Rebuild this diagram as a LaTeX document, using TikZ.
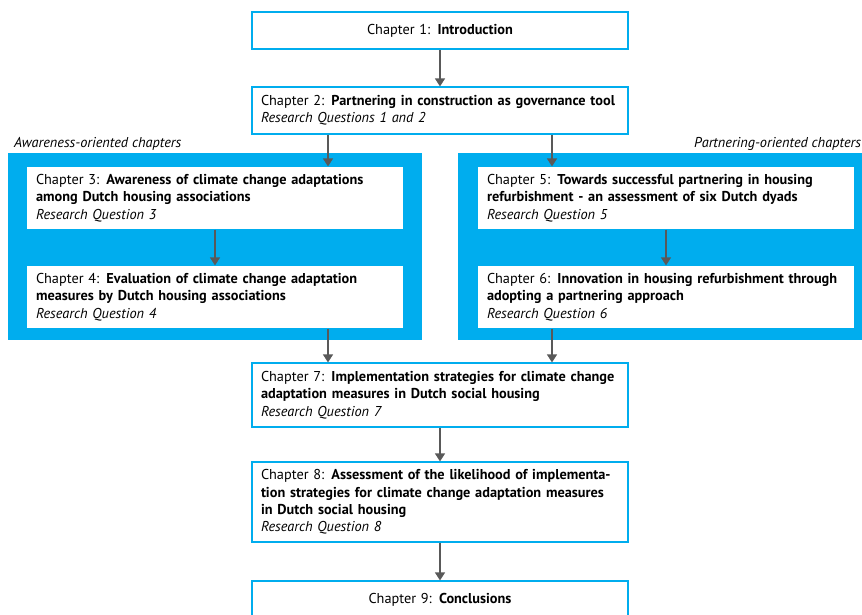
\documentclass[tikz,border=0pt]{standalone}
\usepackage{fontspec}
\setmainfont{PT Sans}
\usetikzlibrary{arrows.meta}

\definecolor{chapblue}{HTML}{00ADEE}
\definecolor{arrowgray}{HTML}{595959}

\tikzset{
  chapbox/.style={draw=chapblue, line width=1.2pt, fill=white, minimum width=376pt,
    text width=358pt, align=left, inner sep=0pt, font=\fontsize{14.3}{17.3}\selectfont},
  innerbox/.style={chapbox, draw=none},
  grouplabel/.style={font=\fontsize{14.3}{16}\selectfont\itshape, inner sep=0pt},
  arr/.style={-{Triangle[width=10pt,length=8pt]}, line width=1.2pt, arrowgray}
}

\begin{document}
\begin{tikzpicture}[x=1pt, y=-1pt]
        \clip (0,0) rectangle (862,614);
        \fill[white] (0,0) rectangle (862,614);

        % group panels
        \fill[chapblue] (8,153) rectangle (422,340);
        \fill[chapblue] (458,153) rectangle (870,340);
        \node[grouplabel, anchor=base west] (awlabel) at (14,147) {Awareness-oriented chapters};
        \node[grouplabel, anchor=base west] (palabel) at (694,147) {Partnering-oriented chapters};

        \node[chapbox, minimum height=37pt, align=center] (ch1) at (440,30.5) {Chapter 1: \textbf{Introduction}};
        \node[chapbox, minimum height=47pt] (ch2) at (440,110.5) {Chapter 2: \textbf{Partnering in construction as governance tool}\\\textit{Research Questions 1 and 2}};

        \node[innerbox, minimum height=62pt] (ch3) at (215,198) {Chapter 3: \textbf{Awareness of climate change adaptations}\\\textbf{among Dutch housing associations}\\\textit{Research Question 3}};
        \node[innerbox, minimum height=62pt] (ch4) at (215,297) {Chapter 4: \textbf{Evaluation of climate change adaptation}\\\textbf{measures by Dutch housing associations}\\\textit{Research Question 4}};
        \node[innerbox, minimum height=62pt] (ch5) at (666,198) {Chapter 5: \textbf{Towards successful partnering in housing}\\\textbf{refurbishment - an assessment of six Dutch dyads}\\\textit{Research Question 5}};
        \node[innerbox, minimum height=62pt] (ch6) at (666,297) {Chapter 6: \textbf{Innovation in housing refurbishment through}\\\textbf{adopting a partnering approach}\\\textit{Research Question 6}};

        \node[chapbox, minimum height=64pt] (ch7) at (440,395) {Chapter 7: \textbf{Implementation strategies for climate change}\\\textbf{adaptation measures in Dutch social housing}\\\textit{Research Question 7}};
        \node[chapbox, minimum height=80pt] (ch8) at (440,502) {Chapter 8: \textbf{Assessment of the likelihood of implementa-}\\\textbf{tion strategies for climate change adaptation measures}\\\textbf{in Dutch social housing}\\\textit{Research Question 8}};
        \node[chapbox, minimum height=38pt, align=center] (ch9) at (440,600) {Chapter 9: \textbf{Conclusions}};

        \coordinate (la) at (328,0);
        \coordinate (ra) at (552,0);

        \draw[arr] (ch1.south) -- (ch2.north);
        \draw[arr] (ch2.south -| la) -- (ch3.north -| la);
        \draw[arr] (ch2.south -| ra) -- (ch5.north -| ra);
        \draw[arr] (ch3.south) -- (ch4.north);
        \draw[arr] (ch5.south) -- (ch6.north);
        \draw[arr] (ch4.south -| la) -- (ch7.north -| la);
        \draw[arr] (ch6.south -| ra) -- (ch7.north -| ra);
        \draw[arr] (ch7.south) -- (ch8.north);
        \draw[arr] (ch8.south) -- (ch9.north);
    \end{tikzpicture}
\end{document}
